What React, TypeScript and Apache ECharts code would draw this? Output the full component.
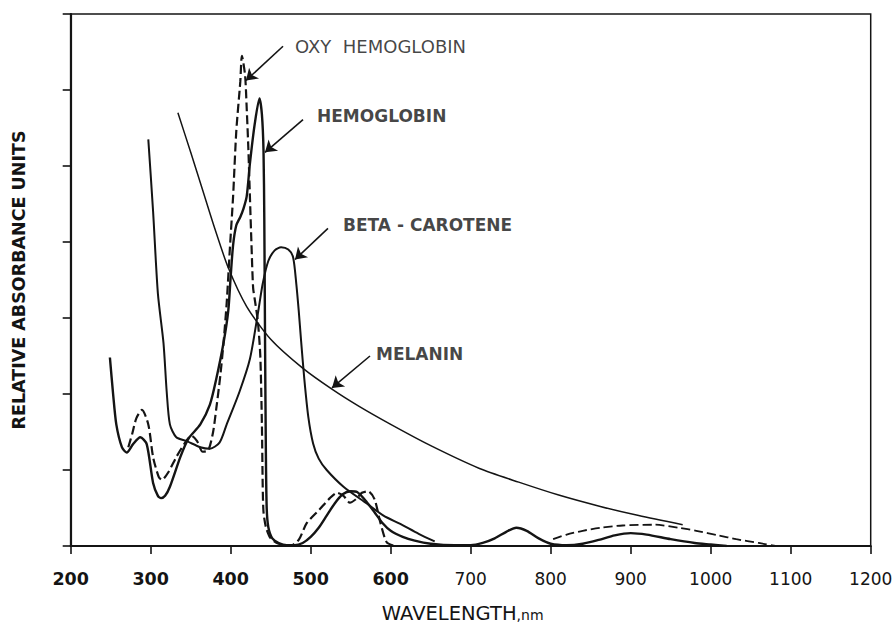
import React, { useEffect, useRef } from "react";
import * as echarts from "echarts";

// ---- axis ----
const xMin = 200;
const xMax = 1200;
const xStep = 100;
const yMin = 0;
const yMax = 7;
const yStep = 1;
const boldTickLimit = 600;

// ---- Hemoglobin (solid) ----
const hbNm = [
  249, 253, 257, 264, 270, 278, 287, 295, 303, 309, 313, 318, 324, 337, 347, 362, 374, 382, 391, 397,
  400, 403, 407, 412, 416, 420, 424, 430, 436, 439, 441, 442, 443, 444, 445, 447, 452, 460, 470, 480,
  490, 500, 510, 520, 530, 540, 550, 558, 570, 580, 590, 600, 615, 630, 650, 680, 700, 715, 730, 745,
  757, 770, 785, 800, 820, 840, 860, 880, 900, 920, 950, 980, 1000, 1020,
];
const hbAbs = [
  2.48, 2.0, 1.6, 1.3, 1.23, 1.34, 1.43, 1.34, 0.83, 0.66, 0.63, 0.66, 0.78, 1.17, 1.41, 1.6, 1.86, 2.2, 2.67, 3.1,
  3.55, 3.96, 4.22, 4.33, 4.44, 4.6, 5.03, 5.55, 5.89, 5.68, 5.21, 4.3, 2.6, 1.2, 0.5, 0.25, 0.1, 0.04, 0.01, 0.01,
  0.04, 0.12, 0.24, 0.4, 0.56, 0.68, 0.72, 0.71, 0.58, 0.44, 0.3, 0.2, 0.12, 0.07, 0.03, 0.01, 0.01, 0.04, 0.1, 0.19,
  0.24, 0.2, 0.1, 0.03, 0.01, 0.03, 0.08, 0.14, 0.17, 0.15, 0.09, 0.04, 0.02, 0.0,
];

// ---- Oxy hemoglobin (dashed), visible band ----
const oxyNm = [
  272, 277, 282, 289, 297, 303, 310, 314, 322, 332, 343, 351, 358, 365, 372, 378, 382, 387, 391, 395,
  399, 403, 407, 412, 414, 418, 420, 422, 424, 426, 428, 430, 434, 437, 439, 440, 441, 444, 450, 460,
  474, 485, 495, 511, 524, 533, 541, 549, 557, 564, 572, 580, 587, 595, 605,
];
const oxyAbs = [
  1.3, 1.48, 1.68, 1.79, 1.6, 1.17, 0.91, 0.87, 0.97, 1.17, 1.36, 1.45, 1.38, 1.24, 1.26, 1.5, 1.81, 2.24, 2.67, 3.2,
  3.92, 4.6, 5.46, 6.11, 6.45, 6.19, 5.76, 5.25, 4.6, 3.96, 3.4, 3.25, 2.95, 2.5, 1.6, 0.8, 0.45, 0.25, 0.1, 0.03,
  0.0, 0.08, 0.3, 0.48, 0.63, 0.7, 0.66, 0.57, 0.62, 0.7, 0.72, 0.61, 0.31, 0.05, 0.0,
];
// ---- Oxy hemoglobin (dashed), near infrared ----
const oxyNirNm = [803, 820, 840, 862, 890, 931, 960, 982, 1010, 1032, 1060, 1081];
const oxyNirAbs = [0.09, 0.15, 0.2, 0.24, 0.27, 0.28, 0.24, 0.2, 0.14, 0.09, 0.04, 0.0];

// ---- Beta-carotene (solid) ----
const betaNm = [
  297, 303, 309, 316, 320, 324, 332, 345, 362, 374, 386, 395, 411, 424, 434, 440, 447, 455, 463, 472,
  478, 482, 485, 488, 492, 497, 503, 510, 520, 541, 570, 591, 612, 635, 655,
];
const betaAbs = [
  5.35, 4.4, 3.32, 2.67, 2.03, 1.6, 1.43, 1.38, 1.3, 1.28, 1.36, 1.6, 2.03, 2.46, 3.06, 3.45, 3.75, 3.89, 3.93, 3.9,
  3.8, 3.45, 3.1, 2.7, 2.2, 1.7, 1.35, 1.15, 1.0, 0.78, 0.56, 0.4, 0.29, 0.16, 0.06,
];

// ---- Melanin (thin solid) ----
const melNm = [334, 350, 365, 380, 397, 420, 450, 490, 527, 560, 600, 650, 711, 760, 810, 862, 910, 965];
const melAbs = [5.7, 5.18, 4.68, 4.18, 3.66, 3.15, 2.72, 2.34, 2.06, 1.84, 1.6, 1.32, 1.02, 0.84, 0.67, 0.52, 0.4, 0.28];

// ---- annotations ----
const labelTexts = ["OXY  HEMOGLOBIN", "HEMOGLOBIN", "BETA - CAROTENE", "MELANIN"];
const labelNm = [480.4, 507.9, 540.4, 581.6];
const labelAbs = [6.576, 5.66, 4.22, 2.53];
const labelBold = [false, true, true, true];
const arrowFromNm = [465.4, 490.4, 521.6, 574.1];
const arrowFromAbs = [6.576, 5.61, 4.18, 2.5];
const arrowToNm = [419.1, 442.9, 480.4, 526.6];
const arrowToAbs = [6.125, 5.18, 3.77, 2.08];

const INK = "#141414";
const FONT = "DejaVu Sans";

const pairs = (xs: number[], ys: number[]) => xs.map((x, i) => [x, ys[i]]);

const lineSeries = (name: string, xs: number[], ys: number[], width: number, type: any) => ({
  name,
  type: "line",
  data: pairs(xs, ys),
  showSymbol: false,
  symbol: "none",
  smooth: 0.25,
  silent: true,
  lineStyle: { color: INK, width, type },
  z: 3,
});

export default function App() {
  const ref = useRef<HTMLDivElement>(null);
  useEffect(() => {
    if (!ref.current) return;
    document.body.style.margin = "0";
    const chart = echarts.init(ref.current, null, { renderer: "svg" });
    const dash = [9, 4];
    const option: any = {
      animation: false,
      backgroundColor: "#ffffff",
      tooltip: { show: false },
      grid: {
        left: 70.7,
        right: 25.3,
        top: 14,
        bottom: 70.7,
        show: true,
        borderColor: INK,
        borderWidth: 1.5,
        backgroundColor: "transparent",
      },
      xAxis: {
        type: "value",
        min: xMin,
        max: xMax,
        interval: xStep,
        name: "{a|WAVELENGTH}{b|,nm}",
        nameLocation: "middle",
        nameGap: 57,
        nameTextStyle: {
          padding: [0, 16, 0, 0],
          rich: {
            a: { fontFamily: FONT, fontSize: 19.5, color: INK },
            b: { fontFamily: FONT, fontSize: 14, color: INK, padding: [3, 0, 0, 0] },
          },
        },
        axisLine: { show: true, onZero: false, lineStyle: { color: INK, width: 2.2 } },
        axisTick: { show: true, inside: false, length: 8, lineStyle: { color: INK, width: 1.6 } },
        splitLine: { show: false },
        axisLabel: {
          show: true,
          margin: 24,
          showMinLabel: true,
          showMaxLabel: true,
          formatter: (v: number) => (v <= boldTickLimit ? `{b|${v}}` : `{n|${v}}`),
          rich: {
            b: { fontFamily: FONT, fontSize: 17.5, fontWeight: "bold", color: INK },
            n: { fontFamily: FONT, fontSize: 17, color: INK },
          },
        },
      },
      yAxis: {
        type: "value",
        min: yMin,
        max: yMax,
        interval: yStep,
        name: "RELATIVE ABSORBANCE UNITS",
        nameLocation: "middle",
        nameGap: 43,
        nameTextStyle: { fontFamily: FONT, fontSize: 17.5, fontWeight: "bold", color: INK },
        axisLine: { show: true, lineStyle: { color: INK, width: 2.2 } },
        axisTick: { show: true, inside: false, length: 8, lineStyle: { color: INK, width: 1.6 } },
        axisLabel: { show: false },
        splitLine: { show: false },
      },
      series: [
        lineSeries("Melanin", melNm, melAbs, 1.5, "solid"),
        lineSeries("Beta-carotene", betaNm, betaAbs, 2, "solid"),
        lineSeries("Hemoglobin", hbNm, hbAbs, 2.4, "solid"),
        lineSeries("Oxy hemoglobin", oxyNm, oxyAbs, 2.2, dash),
        lineSeries("Oxy hemoglobin NIR", oxyNirNm, oxyNirAbs, 1.8, dash),
        {
          name: "labels",
          type: "scatter",
          silent: true,
          symbolSize: 0,
          itemStyle: { color: INK },
          z: 5,
          data: labelTexts.map((t, i) => ({
            name: t,
            value: [labelNm[i], labelAbs[i]],
            label: {
              show: true,
              position: "right",
              distance: 0,
              formatter: "{b}",
              fontFamily: FONT,
              fontSize: labelBold[i] ? 17 : 18,
              fontWeight: labelBold[i] ? "bold" : "normal",
              color: INK,
            },
          })),
          markLine: {
            silent: true,
            animation: false,
            symbol: ["none", "arrow"],
            symbolSize: 11,
            label: { show: false },
            itemStyle: { color: INK },
            lineStyle: { color: INK, width: 1.6, type: "solid" },
            data: arrowFromNm.map((x, i) => [
              { coord: [x, arrowFromAbs[i]] },
              { coord: [arrowToNm[i], arrowToAbs[i]] },
            ]),
          },
        },
      ],
    };
    chart.setOption(option);
    return () => chart.dispose();
  }, []);
  return (
    <div
      ref={ref}
      style={{ position: "fixed", left: 0, top: 0, width: 896, height: 628, background: "#fff" }}
    />
  );
}
